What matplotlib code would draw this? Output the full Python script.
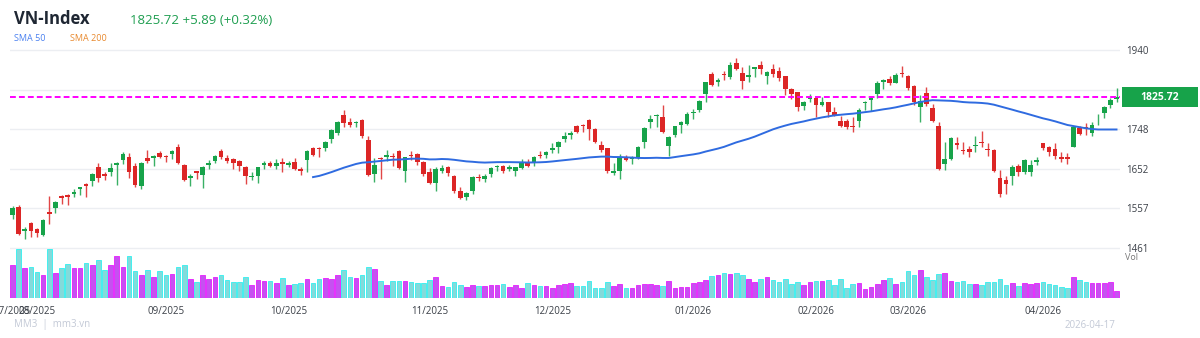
import numpy as np
import pandas as pd
import matplotlib
matplotlib.use("Agg")
import matplotlib.pyplot as plt
from matplotlib.patches import Rectangle

plt.rcParams['font.family'] = ['Open Sans', 'DejaVu Sans']

# Trading sessions: 2025-07-28 .. 2026-04-17 (VN holidays removed)
start_date = '2025-07-28'
end_date = '2026-04-17'
holidays = ['2025-09-01', '2025-09-02', '2026-01-01', '2026-01-02',
            '2026-02-16', '2026-02-17', '2026-02-18', '2026-02-19', '2026-02-20']

# Daily OHLC (points)
opens = [1541, 1561, 1503, 1521, 1506, 1492, 1549, 1558, 1587, 1589, 1592, 1603, 1617, 1623, 1658, 1639,
         1646, 1662, 1674, 1680, 1659, 1612, 1678, 1679, 1690, 1683, 1688, 1705, 1661, 1630, 1647,
         1638, 1662, 1672, 1696, 1679, 1676, 1672, 1656, 1632, 1636, 1661, 1667, 1659, 1668, 1662,
         1668, 1653, 1674, 1704, 1703, 1703, 1725, 1739, 1783, 1766, 1763, 1771, 1722, 1640, 1678,
         1680, 1684, 1696, 1648, 1685, 1688, 1670, 1644, 1619, 1648, 1657, 1636, 1599, 1584, 1600,
         1633, 1627, 1640, 1657, 1659, 1651, 1647, 1655, 1670, 1669, 1685, 1686, 1699, 1705, 1725,
         1735, 1756, 1758, 1771, 1748, 1710, 1702, 1642, 1648, 1682, 1676, 1679, 1718, 1765, 1780,
         1779, 1708, 1734, 1759, 1761, 1787, 1795, 1833, 1881, 1862, 1881, 1874, 1909, 1884, 1875,
         1895, 1904, 1878, 1894, 1890, 1876, 1845, 1838, 1805, 1822, 1825, 1808, 1814, 1789, 1769,
         1769, 1756, 1769, 1812, 1818, 1834, 1863, 1869, 1861, 1884, 1876, 1853, 1802, 1835, 1800,
         1757, 1664, 1676, 1716, 1698, 1700, 1708, 1718, 1700, 1698, 1630, 1626, 1634, 1660, 1644,
         1646, 1670, 1714, 1706, 1700, 1682, 1680, 1706, 1752, 1753, 1739, 1772, 1788, 1807, 1822]
highs = [1563, 1564, 1512, 1523, 1510, 1530, 1587, 1575, 1589, 1591, 1603, 1609, 1619, 1643, 1666, 1644,
         1666, 1668, 1694, 1690, 1666, 1670, 1698, 1686, 1695, 1687, 1698, 1712, 1664, 1639, 1648,
         1659, 1674, 1686, 1700, 1686, 1679, 1673, 1659, 1645, 1658, 1672, 1672, 1676, 1678, 1672,
         1678, 1656, 1698, 1706, 1706, 1721, 1749, 1768, 1795, 1775, 1769, 1772, 1732, 1678, 1680,
         1698, 1692, 1698, 1682, 1696, 1690, 1672, 1654, 1658, 1661, 1659, 1638, 1609, 1597, 1634,
         1640, 1640, 1658, 1661, 1661, 1661, 1658, 1676, 1677, 1684, 1696, 1696, 1714, 1721, 1742,
         1745, 1759, 1760, 1772, 1751, 1721, 1704, 1666, 1688, 1686, 1684, 1708, 1753, 1783, 1785,
         1807, 1732, 1757, 1769, 1789, 1797, 1819, 1863, 1886, 1872, 1889, 1910, 1920, 1900, 1904,
         1900, 1914, 1890, 1905, 1898, 1878, 1847, 1839, 1817, 1833, 1827, 1827, 1815, 1801, 1780,
         1772, 1777, 1799, 1817, 1826, 1865, 1870, 1878, 1884, 1901, 1880, 1855, 1831, 1850, 1809,
         1766, 1718, 1730, 1729, 1718, 1708, 1733, 1744, 1714, 1700, 1650, 1634, 1662, 1664, 1676,
         1674, 1680, 1716, 1708, 1716, 1694, 1691, 1756, 1756, 1763, 1767, 1785, 1805, 1823, 1847]
lows = [1530, 1492, 1482, 1488, 1487, 1490, 1518, 1546, 1567, 1564, 1584, 1590, 1584, 1611, 1621, 1626,
        1636, 1614, 1664, 1630, 1608, 1603, 1667, 1660, 1678, 1670, 1676, 1664, 1623, 1612, 1629,
        1605, 1651, 1666, 1676, 1667, 1653, 1648, 1615, 1626, 1619, 1653, 1656, 1652, 1646, 1658,
        1650, 1638, 1646, 1684, 1680, 1696, 1716, 1735, 1753, 1754, 1754, 1726, 1635, 1621, 1627,
        1672, 1659, 1652, 1621, 1674, 1661, 1636, 1616, 1600, 1642, 1636, 1595, 1579, 1577, 1592,
        1624, 1621, 1633, 1647, 1643, 1647, 1634, 1653, 1658, 1659, 1678, 1678, 1690, 1690, 1718,
        1725, 1738, 1741, 1723, 1714, 1694, 1642, 1638, 1629, 1671, 1664, 1676, 1703, 1751, 1753,
        1740, 1684, 1729, 1740, 1759, 1774, 1791, 1815, 1853, 1853, 1867, 1871, 1892, 1845, 1863,
        1874, 1882, 1858, 1874, 1866, 1831, 1821, 1793, 1796, 1813, 1777, 1805, 1779, 1780, 1754,
        1748, 1741, 1753, 1795, 1792, 1823, 1846, 1855, 1859, 1874, 1843, 1807, 1767, 1805, 1766,
        1650, 1650, 1674, 1700, 1688, 1680, 1693, 1705, 1684, 1646, 1585, 1591, 1613, 1634, 1639,
        1636, 1662, 1698, 1684, 1676, 1670, 1665, 1705, 1734, 1734, 1732, 1759, 1775, 1799, 1815]
closes = [1557, 1494, 1507, 1503, 1497, 1528, 1544, 1573, 1582, 1585, 1596, 1608, 1612, 1640, 1630, 1635,
          1654, 1666, 1688, 1646, 1613, 1667, 1672, 1683, 1682, 1680, 1696, 1667, 1626, 1636, 1643,
          1658, 1667, 1684, 1682, 1671, 1666, 1659, 1635, 1635, 1656, 1667, 1660, 1666, 1663, 1666,
          1651, 1647, 1696, 1686, 1700, 1717, 1746, 1765, 1763, 1759, 1767, 1732, 1637, 1662, 1676,
          1686, 1682, 1654, 1682, 1683, 1670, 1641, 1618, 1652, 1655, 1643, 1600, 1581, 1593, 1632,
          1630, 1636, 1655, 1659, 1648, 1656, 1656, 1669, 1659, 1682, 1684, 1693, 1702, 1718, 1732,
          1738, 1742, 1755, 1748, 1718, 1698, 1648, 1647, 1682, 1674, 1678, 1705, 1751, 1773, 1783,
          1742, 1729, 1755, 1767, 1784, 1789, 1817, 1862, 1856, 1868, 1880, 1904, 1895, 1866, 1879,
          1898, 1895, 1886, 1882, 1872, 1845, 1833, 1803, 1815, 1827, 1807, 1813, 1790, 1783, 1756,
          1754, 1754, 1795, 1814, 1823, 1861, 1867, 1860, 1880, 1881, 1847, 1813, 1817, 1809, 1768,
          1652, 1676, 1728, 1710, 1696, 1693, 1709, 1714, 1698, 1647, 1591, 1615, 1658, 1644, 1674,
          1662, 1674, 1702, 1694, 1684, 1676, 1677, 1754, 1737, 1749, 1759, 1773, 1801, 1819.83, 1825.72]
# Volume (million shares, approximate)
volumes = [1310, 1950, 1190, 1230, 1030, 910, 1980, 990, 1190, 1350, 1190, 1190, 1390, 1310, 1510, 1110,
           1310, 1670, 1230, 1670, 1070, 910, 1110, 830, 1070, 910, 950, 1230, 1310, 750, 630,
           910, 750, 830, 910, 710, 630, 630, 830, 510, 710, 670, 670, 590, 790, 510, 550, 590,
           750, 590, 750, 790, 750, 910, 1110, 830, 790, 910, 1230, 1150, 670, 510, 670, 670,
           670, 630, 590, 590, 710, 830, 470, 430, 630, 510, 430, 510, 470, 470, 510, 510, 550,
           430, 510, 390, 590, 510, 470, 470, 390, 510, 550, 590, 470, 470, 670, 390,
           390, 630, 470, 550, 390, 390, 510, 550, 550, 510, 470, 670, 390, 430, 430, 590, 630,
           710, 870, 910, 990, 950, 990, 910, 750, 630, 750, 830, 710, 630, 750, 550, 630,
           510, 630, 670, 670, 710, 510, 750, 390, 550, 590, 350, 430, 550, 710, 790, 550, 630,
           1070, 910, 1110, 830, 710, 950, 990, 670, 630, 670, 550, 550, 510, 630, 630, 750,
           510, 590, 470, 590, 550, 590, 630, 550, 510, 430, 390, 830, 710, 630, 590, 590, 590, 630, 270]

price_ticks = [1461, 1557, 1652, 1748, 1844, 1940]
change = 5.89
change_pct = 0.32

UP = '#17a34a'
DOWN = '#dc2626'
VOL_UP, VOL_UP_EDGE = '#c552f0', '#e81cff'
VOL_DN, VOL_DN_EDGE = '#84dada', '#2ef0f0'


def main():
    dates = pd.bdate_range(start_date, end_date)
    dates = dates[~dates.isin(pd.to_datetime(holidays))]
    n = len(closes)
    x = np.arange(n)
    o = np.array(opens, float)
    c = np.array(closes, float)
    up = c >= o

    W, H = 1200, 338
    fig = plt.figure(figsize=(12, 3.38), dpi=100)

    def frac(left, top, right, bottom):
        return [left / W, 1 - bottom / H, (right - left) / W, (bottom - top) / H]

    ax = fig.add_axes(frac(10, 40, 1120, 298))
    axv = fig.add_axes(frac(10, 248, 1120, 298), sharex=ax)
    axv.patch.set_alpha(0)

    # candles
    cols = np.where(up, UP, DOWN)
    ax.vlines(x, lows, highs, color=cols, linewidth=1.0, alpha=0.85, zorder=3)
    body = np.where(np.abs(c - o) < 2, 2, np.abs(c - o))
    ax.bar(x, body, bottom=np.minimum(o, c), width=0.75, color=cols, linewidth=0, zorder=4)

    # SMA 50
    sma50 = pd.Series(c).rolling(50).mean()
    ax.plot(x, sma50, color='#2f6be0', linewidth=1.4, zorder=5)

    # last price line
    ax.axhline(c[-1], color='#ff00ff', linewidth=1.4, linestyle=(0, (3, 1.6)), zorder=6)

    ax.set_xlim(-0.41, n - 1 + 0.57)
    ax.set_ylim(1340.0, 1964.2)
    ax.set_yticks(price_ticks)
    # 1844 sits under the last-price tag
    ax.set_yticklabels([str(t) if t != 1844 else '' for t in price_ticks])
    ax.yaxis.tick_right()
    ax.tick_params(axis='y', length=0, pad=4.5, labelsize=7, labelcolor='#3a3f47')
    ax.grid(axis='y', color='#eceef2', linewidth=1.0, zorder=0)
    ax.grid(axis='x', visible=False)
    for s in ax.spines.values():
        s.set_visible(False)

    # volume
    axv.bar(x, volumes, width=0.75, color=np.where(up, VOL_UP, VOL_DN),
            edgecolor=np.where(up, VOL_UP_EDGE, VOL_DN_EDGE), linewidth=0.6, zorder=2)
    axv.set_ylim(0, 2000)
    axv.set_yticks([])
    for s in axv.spines.values():
        s.set_visible(False)

    # month ticks
    months = pd.Series(dates.to_period('M'))
    first = months.ne(months.shift()).to_numpy()
    mpos = x[first]
    mlab = [d.strftime('%m/%Y') for d in dates[first]]
    axv.set_xticks(mpos)
    axv.set_xticklabels(mlab)
    axv.tick_params(axis='x', length=0, pad=6, labelsize=7, labelcolor='#3a3f47')
    ax.tick_params(axis='x', length=0, labelbottom=False)

    # last price tag
    fig.patches.append(Rectangle((1122 / W, 1 - 107 / H), 76 / W, 20 / H, transform=fig.transFigure,
                                 facecolor='#17a34a', edgecolor='none', zorder=10))
    fig.text(1160 / W, 1 - 97.5 / H, f'{c[-1]:.2f}', color='white', fontsize=7.5, fontweight='bold',
             ha='center', va='center', zorder=11)
    fig.text(1125 / W, 1 - 258 / H, 'Vol', color='#777777', fontsize=6.5, ha='left', va='center')

    # header
    fig.text(14 / W, 1 - 19 / H, 'VN-Index', fontsize=12, fontweight='bold', color='#1f2733',
             ha='left', va='center')
    fig.text(130 / W, 1 - 20 / H, f'{c[-1]:.2f} +{change:.2f} (+{change_pct:.2f}%)', fontsize=9.5,
             color='#1e9e50', ha='left', va='center')
    fig.text(14 / W, 1 - 38.5 / H, 'SMA 50', fontsize=6.5, color='#4a80f0', ha='left', va='center')
    fig.text(70 / W, 1 - 38.5 / H, 'SMA 200', fontsize=6.5, color='#e8892e', ha='left', va='center')

    # footer
    fig.text(14 / W, 1 - 325 / H, 'MM3  |  mm3.vn', fontsize=7, color='#c3c9d6', ha='left', va='center')
    fig.text(1115 / W, 1 - 325 / H, dates[-1].strftime('%Y-%m-%d'), fontsize=7, color='#c3c9d6',
             ha='right', va='center')

    fig.savefig('out.png', dpi=100, facecolor='white')
    plt.close()


if __name__ == '__main__':
    main()
